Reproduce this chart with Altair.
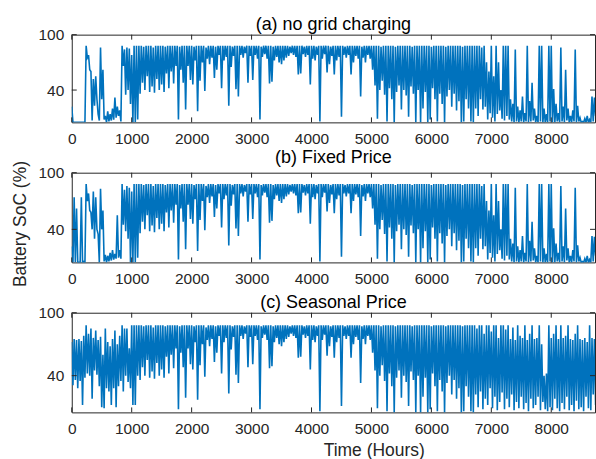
import altair as alt
import pandas as pd

# ---------------- data ----------------
# Each bin spans 40 hours; the series alternates the bin's high and low SoC.
BIN_H = 40
XTICKS = [0, 1000, 2000, 3000, 4000, 5000, 6000, 7000, 8000]
YTICKS = [40, 100]
PANEL_TITLES = ["(a) no grid charging", "(b) Fixed Price", "(c) Seasonal Price"]

# hours 0-1120
START_A_HI = [22, 5, 5, 5, 5, 5, 88, 78, 60, 52,
              55, 14, 86, 62, 12, 17, 14, 20, 32, 22,
              18, 88, 84, 86, 85, 78, 88, 88]
START_A_LO = [5, 5, 5, 5, 5, 5, 75, 62, 7, 23,
              30, 7, 30, 8, 5, 6, 7, 8, 10, 12,
              6, 66, 35, 40, 25, 5, 5, 8]
START_B_HI = [22, 74, 62, 5, 74, 6, 88, 78, 58, 80,
              74, 35, 83, 60, 13, 12, 15, 18, 14, 55,
              18, 88, 82, 86, 84, 80, 88, 88]
START_B_LO = [5, 5, 5, 5, 5, 5, 70, 60, 40, 30,
              40, 5, 40, 6, 5, 6, 7, 8, 9, 10,
              9, 45, 38, 30, 5, 5, 5, 10]
START_C_HI = [72, 75, 74, 75, 73, 78, 88, 80, 85, 76,
              83, 74, 77, 60, 85, 72, 68, 75, 83, 70,
              78, 88, 85, 85, 66, 88, 88, 88]
START_C_LO = [31, 36, 28, 35, 12, 38, 42, 40, 18, 45,
              41, 30, 10, 9, 28, 25, 12, 28, 10, 30,
              35, 25, 40, 34, 28, 12, 12, 40]

# hours 1120-6720 (same in all three panels)
MID_HI = [88, 88, 87, 88, 88, 88, 86, 88, 88, 88,
          88, 87, 88, 88, 88, 88, 88, 87, 88, 88,
          88, 88, 88, 87, 88, 88, 88, 88, 86, 88,
          88, 88, 87, 88, 88, 88, 88, 88, 88, 87,
          88, 88, 88, 88, 87, 88, 88, 88, 88, 88,
          88, 87, 88, 88, 88, 88, 87, 88, 88, 88,
          88, 88, 88, 87, 88, 88, 88, 88, 88, 87,
          88, 88, 88, 88, 87, 88, 88, 88, 88, 88,
          87, 88, 88, 88, 88, 88, 87, 88, 88, 88,
          88, 88, 88, 87, 88, 88, 88, 88, 88, 88,
          88, 87, 88, 88, 88, 88, 88, 87, 88, 88,
          88, 88, 88, 88, 87, 88, 88, 88, 88, 88,
          88, 88, 87, 88, 88, 88, 88, 88, 87, 88,
          88, 88, 88, 88, 88, 87, 88, 88, 88, 88]
MID_LO = [36, 48, 40, 55, 38, 44, 37, 52, 40, 46,
          38, 58, 42, 60, 47, 66, 8, 62, 48, 19,
          66, 51, 46, 72, 17, 50, 70, 39, 74, 68,
          75, 53, 62, 78, 42, 72, 76, 23, 65, 77,
          41, 33, 78, 75, 80, 48, 77, 51, 78, 74,
          8, 76, 79, 74, 47, 49, 72, 76, 70, 68,
          72, 75, 77, 80, 78, 76, 57, 58, 79, 76,
          78, 46, 74, 72, 78, 6, 74, 79, 59, 68,
          77, 57, 72, 76, 11, 78, 75, 78, 57, 70,
          77, 74, 33, 75, 70, 78, 74, 62, 45, 9,
          40, 50, 35, 6, 42, 30, 5, 38, 45, 19,
          40, 34, 11, 44, 36, 5, 40, 5, 20, 38,
          5, 8, 42, 30, 6, 36, 25, 5, 33, 40,
          22, 36, 18, 28, 5, 6, 30, 20, 6, 5]

# hours 6720-8760
END_AB_HI = [88, 88, 88, 86, 88, 70, 60, 88, 55, 88,
             70, 40, 88, 88, 88, 30, 25, 84, 22, 18,
             33, 15, 88, 28, 48, 20, 12, 88, 88, 20,
             14, 88, 88, 41, 25, 15, 86, 22, 62, 20,
             12, 18, 84, 23, 10, 6, 9, 12, 8, 33,
             32]
END_AB_LO = [20, 12, 30, 19, 22, 8, 15, 10, 6, 14,
             18, 9, 7, 12, 8, 6, 5, 6, 5, 6,
             5, 6, 5, 6, 7, 5, 5, 6, 5, 5,
             5, 6, 5, 5, 6, 5, 6, 5, 7, 5,
             5, 6, 5, 6, 5, 5, 5, 5, 5, 6,
             12]
END_C_HI = [88, 85, 88, 88, 80, 88, 88, 82, 88, 88,
            76, 88, 88, 84, 88, 75, 86, 74, 88, 78,
            76, 88, 74, 80, 88, 75, 76, 88, 70, 40,
            42, 88, 76, 80, 88, 75, 88, 76, 78, 88,
            75, 74, 80, 88, 75, 74, 76, 72, 88, 76,
            75]
END_C_LO = [22, 10, 25, 8, 18, 12, 28, 9, 20, 7,
            15, 24, 8, 18, 10, 22, 7, 15, 9, 20,
            8, 14, 6, 18, 9, 12, 20, 7, 15, 8,
            6, 10, 7, 18, 9, 6, 14, 8, 20, 7,
            12, 6, 16, 8, 10, 6, 20, 9, 7, 22,
            12]


def build(hi, lo):
    hours, soc = [], []
    for i, (h, l) in enumerate(zip(hi, lo)):
        hours += [i * BIN_H, i * BIN_H + BIN_H // 2]
        soc += [h, l]
    return pd.DataFrame({"hour": hours, "soc": soc})


DATA = [
    build(START_A_HI + MID_HI + END_AB_HI, START_A_LO + MID_LO + END_AB_LO),
    build(START_B_HI + MID_HI + END_AB_HI, START_B_LO + MID_LO + END_AB_LO),
    build(START_C_HI + MID_HI + END_C_HI, START_C_LO + MID_LO + END_C_LO),
]

# ---------------- styling ----------------
BLUE = "#0072BD"
AX = "#262626"
FONT = "Liberation Sans"
W = 525
HEIGHTS = [88, 90, 100]


def panel(i):
    h = HEIGHTS[i]
    xaxis = dict(values=XTICKS, format="d", tickSize=0, labelPadding=9, labelFontSize=15.5,
                 labelColor=AX, domain=False, grid=False, labelFont=FONT, labelFlush=False)
    if i == 2:
        xaxis.update(title="Time (Hours)", titleFontSize=17.5, titleFontWeight="normal",
                     titleColor=AX, titleFont=FONT, titlePadding=5, titleX=303)
    else:
        xaxis.update(title=None)
    yaxis = dict(values=YTICKS, format="d", tickSize=0, labelPadding=8, labelFontSize=15.5,
                 labelColor=AX, domain=False, grid=False, labelFont=FONT, labelFlush=False)
    if i == 1:
        yaxis.update(title="Battery SoC (%)", titleFontSize=17.5, titleFontWeight="normal",
                     titleColor=AX, titleFont=FONT, titleX=-42, titleY=51)
    else:
        yaxis.update(title=None)

    X = alt.X("hour:Q", scale=alt.Scale(domain=[0, 8730], nice=False, zero=False),
              axis=alt.Axis(**xaxis))
    Y = alt.Y("soc:Q", scale=alt.Scale(domain=[5, 100], nice=False, zero=False),
              axis=alt.Axis(**yaxis))

    line = alt.Chart(DATA[i]).mark_line(color=BLUE, strokeWidth=1.6, clip=True).encode(x=X, y=Y)

    xt = pd.DataFrame({"hour": XTICKS})
    yt = pd.DataFrame({"soc": YTICKS})
    top_t = alt.Chart(xt).mark_rule(color=AX, strokeWidth=1).encode(
        x=X, y=alt.value(0), y2=alt.value(5))
    bot_t = alt.Chart(xt).mark_rule(color=AX, strokeWidth=1).encode(
        x=X, y=alt.value(h), y2=alt.value(h - 5))
    left_t = alt.Chart(yt).mark_rule(color=AX, strokeWidth=1).encode(
        y=Y, x=alt.value(0), x2=alt.value(5))
    right_t = alt.Chart(yt).mark_rule(color=AX, strokeWidth=1).encode(
        y=Y, x=alt.value(W), x2=alt.value(W - 5))

    return alt.layer(line, top_t, bot_t, left_t, right_t).properties(
        width=W, height=h,
        title=alt.TitleParams(PANEL_TITLES[i], fontSize=18, font=FONT, fontWeight="normal",
                              color="black", anchor="middle", offset=-6, frame="group"),
    )


chart = alt.vconcat(panel(0), panel(1), panel(2), spacing=50.5, bounds="flush").properties(
    padding={"left": 11, "top": 14, "right": 0, "bottom": 0},
    background="white",
).configure_view(stroke=AX, strokeWidth=1)

chart.save("out.html", embed_options={"renderer": "svg", "actions": False})
